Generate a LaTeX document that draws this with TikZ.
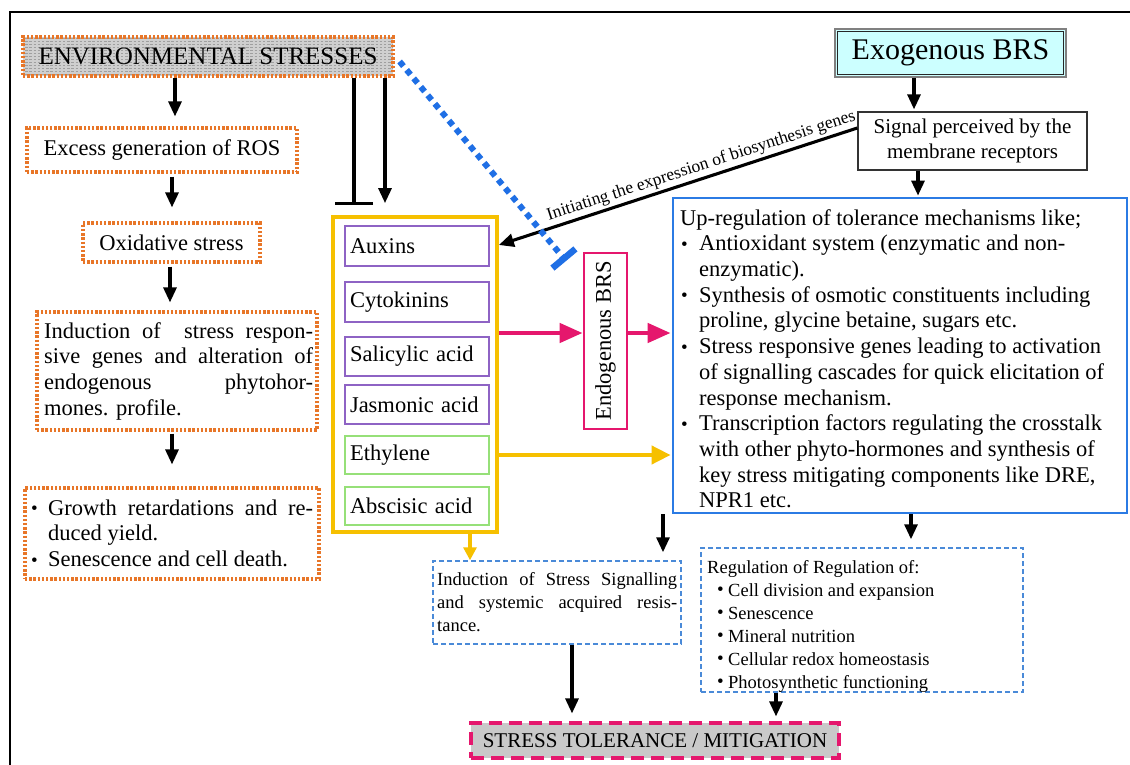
\documentclass[tikz,border=0pt]{standalone}
\usepackage{fontspec}
\setmainfont{Liberation Serif}
\usetikzlibrary{arrows.meta,patterns}
\definecolor{orng}{RGB}{232,118,40}
\definecolor{purp}{RGB}{142,99,196}
\definecolor{grn}{RGB}{150,224,120}
\definecolor{yel}{RGB}{246,192,0}
\definecolor{pnk}{RGB}{229,23,109}
\definecolor{blu}{RGB}{43,123,228}
\definecolor{bluD}{RGB}{31,111,229}
\definecolor{bluL}{RGB}{74,138,216}
\definecolor{cyn}{RGB}{204,255,255}
\newcommand{\bdot}{\raisebox{0.5pt}{\fontsize{19}{19}\selectfont\textbullet}}
\begin{document}
\begin{tikzpicture}[x=1pt,y=-1pt,
  box/.style={rectangle, inner sep=0pt, font=\fontsize{22.5}{25.7}\selectfont},
  orbox/.style={box, draw=orng, line width=3.2pt, dash pattern=on 2.4pt off 1.8pt},
  hbox/.style={box, draw=purp, line width=1.8pt, minimum width=144pt, text width=134pt, align=left},
  gbox/.style={hbox, draw=grn},
  txt/.style={inner sep=0pt, align=left, anchor=north west, font=\fontsize{22.5}{25.7}\selectfont},
  stxt/.style={txt, font=\fontsize{18.5}{23}\selectfont},
  arr/.style={line width=3.1pt, -{Triangle[length=15pt,width=13pt]}},
  tbar/.style={line width=3.1pt, -{Bar[width=38pt,line width=3.4pt]}},
  parr/.style={draw=pnk, line width=4.6pt, -{Triangle[length=23pt,width=19pt]}},
  yarr/.style={draw=yel, line width=4pt, -{Triangle[length=19pt,width=18pt]}},
]
\useasboundingbox (0,0) rectangle (1130,765);
\fill[white] (0,0) rectangle (1130,765);
\draw[line width=2.2pt] (10,765) -- (10,12) -- (1130,12);

% x / y reference coordinates
\foreach \v in {175,172,170,385,354,914,918,470,663,911,572,776}{\coordinate (c\v) at (\v,0);}
\foreach \v in {245,333,455}{\coordinate (r\v) at (0,\v);}
\coordinate (bt) at (566,261);

% top boxes
\node[orbox, minimum width=370pt, minimum height=39pt, fill=gray!38,
  path picture={\fill[pattern=horizontal lines, pattern color=gray!75]
  (path picture bounding box.south west) rectangle (path picture bounding box.north east);},
  font=\fontsize{25}{28}\selectfont] (env) at (208,56.5) {ENVIRONMENTAL STRESSES};
\node[box, draw=gray, line width=1.2pt, fill=cyn, minimum width=231pt, minimum height=48pt,
  font=\fontsize{30}{34}\selectfont] (exo) at (950.5,53) {Exogenous BRS};
\draw[black!85, line width=1.5pt] ([shift={(3pt,-3pt)}]exo.north west) rectangle ([shift={(-3pt,3pt)}]exo.south east);
\node[box, draw=black!80, line width=1.3pt, minimum width=229pt, minimum height=58pt, align=center,
  font=\fontsize{21}{25}\selectfont] (sig) at (972.5,141) {Signal perceived by the\\membrane receptors};

% left column
\node[orbox, minimum width=270pt, minimum height=44pt] (ros) at (162,150) {Excess generation of ROS};
\node[orbox, minimum width=177pt, minimum height=39pt] (oxi) at (171.5,242.5) {Oxidative stress};
\node[orbox, minimum width=280pt, minimum height=118pt] (ind) at (177,371) {};
\node[txt] (indt) at (44,320) {\strut\makebox[269pt][s]{Induction of\ \ stress respon-}\\
  \makebox[269pt][s]{sive genes and alteration of}\\
  \makebox[269pt][s]{endogenous phytohor-}\\
  mones. profile.};
\node[orbox, minimum width=294pt, minimum height=91pt] (gro) at (172,533.5) {};
\node[txt] (grot) at (31,497) {\strut\makebox[17pt][l]{\bdot}\makebox[265pt][s]{Growth retardations and re-}\\
  \hspace*{17pt}duced yield.\\
  \makebox[17pt][l]{\bdot}Senescence and cell death.};

% hormones
\node[box, draw=yel, line width=3.8pt, minimum width=164pt, minimum height=315pt] (yel) at (415,374.5) {};
\node[hbox, minimum height=40pt] (aux) at (417,246) {Auxins};
\node[hbox, minimum height=40pt] (cyt) at (417,302) {Cytokinins};
\node[hbox, minimum height=39pt] (sal) at (417,356.5) {Salicylic acid};
\node[hbox, minimum height=39pt] (jas) at (417,404.5) {Jasmonic acid};
\node[gbox, minimum height=38pt] (eth) at (417,455) {Ethylene};
\node[gbox, minimum height=38pt] (abs) at (417,506) {Abscisic acid};

% endogenous
\node[box, draw=pnk, line width=2.8pt, minimum width=43pt, minimum height=176pt] (endo) at (605.5,341) {};
\node[box, rotate=90] (endot) at (endo.center) {Endogenous BRS};

% blue box
\node[box, draw=blu, line width=2.8pt, minimum width=454pt, minimum height=315pt] (blu) at (900,355.5) {};
\node[txt] (blut) at (680,207) {\strut Up-regulation of tolerance mechanisms like;\\
  \hspace*{1pt}\makebox[18pt][l]{\bdot}Antioxidant system (enzymatic and non-\\
  \hspace*{19pt}enzymatic).\\
  \hspace*{1pt}\makebox[18pt][l]{\bdot}Synthesis of osmotic constituents including\\
  \hspace*{19pt}proline, glycine betaine, sugars etc.\\
  \hspace*{1pt}\makebox[18pt][l]{\bdot}Stress responsive genes leading to activation\\
  \hspace*{19pt}of signalling cascades for quick elicitation of\\
  \hspace*{19pt}response mechanism.\\
  \hspace*{1pt}\makebox[18pt][l]{\bdot}Transcription factors regulating the crosstalk\\
  \hspace*{19pt}with other phyto-hormones and synthesis of\\
  \hspace*{19pt}key stress mitigating components like DRE,\\
  \hspace*{19pt}NPR1 etc.};

% bottom boxes
\node[box, draw=bluL, line width=1.5pt, dash pattern=on 5pt off 3pt, minimum width=248pt, minimum height=83pt] (iss) at (557,602.5) {};
\node[stxt] (isst) at (437,569) {\strut\makebox[240pt][s]{Induction of Stress Signalling}\\
  \makebox[240pt][s]{and systemic acquired resis-}\\
  tance.};
\node[box, draw=bluL, line width=1.5pt, dash pattern=on 5pt off 3pt, minimum width=322pt, minimum height=144pt] (reg) at (862,620) {};
\node[stxt] (regt) at (707,557) {\strut Regulation of Regulation of:\\
  \hspace*{10pt}\makebox[11pt][l]{\bdot}Cell division and expansion\\
  \hspace*{10pt}\makebox[11pt][l]{\bdot}Senescence\\
  \hspace*{10pt}\makebox[11pt][l]{\bdot}Mineral nutrition\\
  \hspace*{10pt}\makebox[11pt][l]{\bdot}Cellular redox homeostasis\\
  \hspace*{10pt}\makebox[11pt][l]{\bdot}Photosynthetic functioning};
\node[box, draw=pnk, line width=3.2pt, dash pattern=on 13pt off 7pt, fill=gray!42, minimum width=368pt, minimum height=35pt,
  font=\fontsize{21}{24}\selectfont] (stm) at (655,740.5) {STRESS TOLERANCE / MITIGATION};

% connectors
\draw[arr, shorten >=10pt] (c175 |- env.south) -- (c175 |- ros.north);
\draw[arr, shorten <=3pt, shorten >=14pt] (c172 |- ros.south) -- (c172 |- oxi.north);
\draw[arr, shorten <=3pt, shorten >=8pt] (c170 |- oxi.south) -- (c170 |- ind.north);
\draw[arr, shorten <=2pt, shorten >=22pt] (c172 |- ind.south) -- (c172 |- gro.north);
\draw[arr, shorten >=12pt] (c385 |- env.south) -- (c385 |- yel.north);
\draw[tbar, shorten >=10pt] (c354 |- env.south) -- (c354 |- yel.north);
\draw[arr, shorten >=2pt] (c914 |- exo.south) -- (c914 |- sig.north);
\draw[arr, shorten >=1pt] (c918 |- sig.south) -- (c918 |- blu.north);
\draw[arr] ([yshift=13pt]sig.west) -- (yel.east |- r245)
  node[pos=0.425, sloped, above, inner sep=2.5pt, font=\fontsize{17.5}{19}\selectfont] (lbl) {Initiating the expression of biosynthesis genes};
\draw[parr] (yel.east |- r333) -- (endo.west |- r333);
\draw[parr, shorten >=1pt] (endo.east |- r333) -- (blu.west |- r333);
\draw[yarr, shorten >=1pt] (yel.east |- r455) -- (blu.west |- r455);
\draw[draw=yel, line width=3.2pt, -{Triangle[length=13pt,width=13pt]}] (c470 |- yel.south) -- (c470 |- iss.north);
\draw[arr, shorten >=8pt] (c663 |- blu.south) -- (c663 |- iss.north);
\draw[arr, shorten >=8pt] (c911 |- blu.south) -- (c911 |- reg.north);
\draw[arr, shorten >=8pt] (c572 |- iss.south) -- (c572 |- stm.north);
\draw[arr, shorten >=5pt] (c776 |- reg.south) -- (c776 |- stm.north);
\draw[draw=bluD, line width=6pt, dash pattern=on 6pt off 5pt, -{Bar[width=30pt,line width=6.5pt]}]
  ([xshift=5pt,yshift=-5pt]env.east) -- (bt);
\end{tikzpicture}
\end{document}
